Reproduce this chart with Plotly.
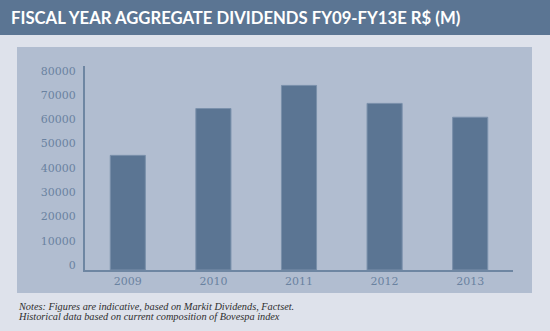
import plotly.graph_objects as go

years = ["2009", "2010", "2011", "2012", "2013"]
dividends = [47200, 66500, 76000, 68600, 62900]
y_ticks = [0, 10000, 20000, 30000, 40000, 50000, 60000, 70000, 80000]

W, H = 550, 331
L, R, T, B = 85, 37, 66, 61
PW, PH = W - L - R, H - T - B

def px(x):
    return (x - L) / PW

def py(y):
    return (H - B - y) / PH

OUTER = "#dee2eb"
PANEL = "#b1bdd0"
DARK = "#5b7593"
AXIS = "#6e86a2"
LABEL = "#6a82a0"
NOTE = dict(family="Liberation Serif", size=10.3, color="#2e2e2e")

fig = go.Figure()
fig.add_trace(go.Bar(
    x=years, y=dividends,
    marker=dict(color=DARK, line=dict(color="#7a90ab", width=1)),
    width=0.41,
))

fig.update_layout(
    width=W, height=H,
    margin=dict(l=L, r=R, t=T, b=B, pad=0),
    paper_bgcolor=OUTER,
    plot_bgcolor=PANEL,
    showlegend=False,
    shapes=[
        dict(type="rect", xref="paper", yref="paper", x0=px(0), x1=px(W), y0=py(35), y1=py(0),
             fillcolor=DARK, line=dict(width=0), layer="below"),
        dict(type="rect", xref="paper", yref="paper", x0=px(17), x1=px(532), y0=py(293), y1=py(47),
             fillcolor=PANEL, line=dict(width=0), layer="below"),
    ],
    annotations=[
        dict(text="FISCAL YEAR AGGREGATE DIVIDENDS FY09-FY13E R$ (M)", xref="paper", yref="paper",
             x=px(9), y=py(18), xanchor="left", yanchor="middle", showarrow=False,
             font=dict(family="Lato", size=16.7, color="white", weight="bold")),
        dict(text="<i>Notes: Figures are indicative, based on Markit Dividends, Factset.</i>",
             xref="paper", yref="paper", x=px(16), y=py(306), xanchor="left", yanchor="middle",
             align="left", showarrow=False, font=NOTE),
        dict(text="<i>Historical data based on current composition of Bovespa index</i>",
             xref="paper", yref="paper", x=px(16), y=py(316.7), xanchor="left", yanchor="middle",
             align="left", showarrow=False, font=NOTE),
    ],
    xaxis=dict(
        showline=True, linecolor=AXIS, linewidth=2, showgrid=False, ticks="",
        tickfont=dict(family="DejaVu Serif", size=11, color=LABEL),
    ),
    yaxis=dict(
        range=[0, 84000], showline=True, linecolor=AXIS, linewidth=2, showgrid=False,
        zeroline=False, ticks="", tickvals=y_ticks, tickformat="d",
        ticklabelstandoff=5, ticklabelshift=-5,
        tickfont=dict(family="DejaVu Serif", size=11, color=LABEL),
    ),
)

fig.write_html("out.html")
